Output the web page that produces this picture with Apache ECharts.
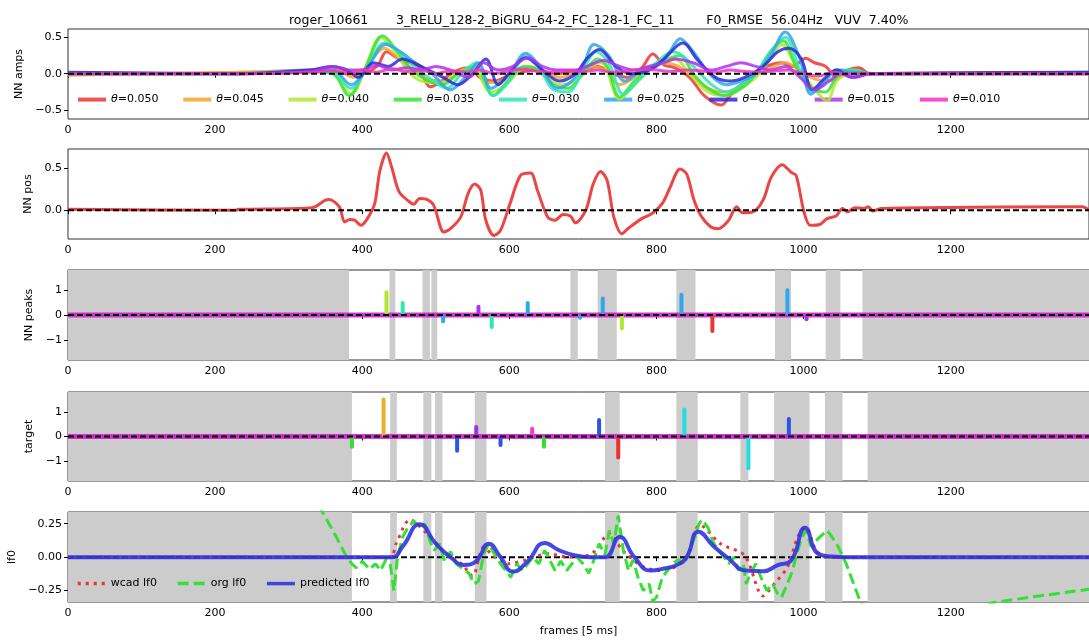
<!DOCTYPE html>
<html><head><meta charset="utf-8">
<script src="https://cdn.jsdelivr.net/npm/echarts@6/dist/echarts.min.js"></script>
<style>html,body{margin:0;padding:0;background:#fff}#c{width:1089px;height:642px}</style>
</head><body><div id="c"></div>
<script>
// ---------------- data ----------------
const TITLE = 'roger_10661       3_RELU_128-2_BiGRU_64-2_FC_128-1_FC_11        F0_RMSE  56.04Hz   VUV  7.40%';
const X_MAX = 1388;
const X_TICKS = [0, 200, 400, 600, 800, 1000, 1200];
const X_LABEL = 'frames [5 ms]';
const PANEL_NAMES = ['NN amps', 'NN pos', 'NN peaks', 'target', 'lf0'];
const THETAS = ['θ=0.050', 'θ=0.045', 'θ=0.040', 'θ=0.035', 'θ=0.030', 'θ=0.025', 'θ=0.020', 'θ=0.015', 'θ=0.010'];

// NN amps per theta: [frame, value]
const AMP_050 = [[0,0.0],[100,0],[230,0.01],[320,0.03],[360,0.05],[395,0.0],[420,0.1],[433,0.3],[450,0.2],[475,0.1],[493,-0.18],[505,-0.12],[520,0.0],[530,0.05],[545,0.08],[560,-0.05],[580,-0.1],[600,-0.02],[620,0.03],[640,0.05],[660,0.0],[680,0.02],[700,0.05],[720,0.1],[740,0.0],[760,-0.05],[780,0.08],[795,0.27],[810,0.12],[825,0.08],[845,-0.05],[865,-0.3],[888,-0.43],[900,-0.3],[915,-0.15],[930,-0.05],[950,0.1],[970,0.15],[985,0.1],[1003,0.21],[1015,0.15],[1030,0.1],[1045,-0.05],[1060,0.05],[1075,0.08],[1090,0.0],[1120,0.0],[1388,0.01]];
const AMP_045 = [[0,-0.02],[100,0],[230,0.02],[320,0.05],[360,0.06],[390,-0.05],[410,0.15],[430,0.35],[450,0.2],[470,0.05],[490,-0.08],[510,-0.1],[530,0.0],[550,0.05],[570,-0.12],[590,-0.1],[610,0.05],[630,0.08],[650,0.0],[670,-0.05],[690,0.02],[710,0.1],[730,0.05],[750,-0.15],[770,-0.05],[790,0.1],[810,0.15],[830,0.1],[850,-0.05],[870,-0.2],[890,-0.25],[910,-0.2],[930,-0.05],[950,0.05],[975,0.15],[995,0.05],[1010,-0.05],[1030,-0.1],[1050,-0.05],[1070,0.05],[1090,0.0],[1388,0.0]];
const AMP_040 = [[0,-0.01],[230,0.0],[330,0.03],[360,0.0],[385,-0.28],[405,0.1],[425,0.5],[445,0.3],[465,0.0],[490,-0.12],[510,-0.12],[530,0.02],[550,0.08],[575,-0.25],[595,-0.15],[615,0.05],[630,0.1],[650,-0.05],[670,-0.15],[690,-0.1],[710,0.1],[725,0.15],[750,-0.35],[770,-0.15],[790,0.05],[810,0.15],[825,0.2],[845,0.0],[870,-0.25],[895,-0.3],[915,-0.2],[935,-0.05],[955,0.2],[970,0.4],[990,0.1],[1010,-0.15],[1032,-0.37],[1045,-0.1],[1065,0.05],[1090,0.0],[1388,0.0]];
const AMP_035 = [[0,0.0],[230,0.0],[330,0.03],[360,0.0],[382,-0.3],[405,0.1],[428,0.52],[448,0.3],[468,0.05],[490,-0.1],[510,-0.15],[530,0.0],[555,0.1],[578,-0.3],[598,-0.1],[620,0.1],[640,0.05],[660,-0.15],[680,-0.2],[700,0.0],[720,0.2],[733,0.1],[750,-0.32],[770,-0.1],[795,0.1],[815,0.2],[832,0.25],[850,0.0],[870,-0.2],[892,-0.3],[915,-0.2],[935,0.0],[955,0.3],[972,0.45],[992,0.05],[1012,-0.2],[1030,-0.25],[1045,-0.05],[1065,0.05],[1090,0.0],[1388,0.0]];
const AMP_030 = [[0,0.0],[230,0.0],[330,0.03],[360,0.02],[384,-0.2],[405,0.05],[430,0.42],[450,0.3],[470,0.1],[490,-0.05],[515,-0.2],[535,0.0],[555,0.15],[578,-0.3],[600,-0.1],[622,0.25],[640,0.1],[660,-0.22],[680,-0.25],[700,0.05],[718,0.3],[735,0.15],[755,-0.28],[775,-0.1],[800,0.15],[822,0.3],[835,0.25],[855,0.05],[875,-0.15],[895,-0.25],[915,-0.15],[935,0.0],[955,0.3],[975,0.5],[995,0.05],[1012,-0.25],[1030,-0.1],[1045,0.05],[1065,0.05],[1090,0.0],[1388,0.01]];
const AMP_025 = [[0,0.01],[230,0.0],[330,0.05],[360,0.05],[385,-0.15],[405,0.05],[432,0.4],[452,0.3],[472,0.15],[495,0.0],[520,-0.22],[540,-0.05],[558,0.15],[575,-0.2],[600,0.0],[622,0.28],[645,0.05],[665,-0.2],[685,-0.1],[700,0.1],[715,0.4],[735,0.25],[757,-0.1],[780,0.05],[800,0.1],[818,0.3],[832,0.48],[850,0.3],[872,0.0],[895,-0.15],[915,-0.1],[935,0.0],[955,0.25],[975,0.57],[995,0.2],[1010,-0.28],[1025,-0.15],[1045,0.05],[1070,0.02],[1100,0.0],[1388,0.02]];
const AMP_020 = [[0,0.02],[230,0.0],[330,0.05],[358,0.1],[380,0.05],[395,-0.05],[415,0.15],[435,0.1],[455,0.2],[470,0.15],[490,0.05],[510,-0.05],[530,-0.15],[550,0.0],[568,0.2],[585,-0.15],[603,0.05],[622,0.22],[645,0.05],[668,-0.1],[690,0.0],[705,0.2],[722,0.33],[745,0.1],[765,0.0],[790,0.05],[810,0.2],[836,0.42],[855,0.2],[880,-0.05],[900,-0.1],[920,-0.05],[945,0.1],[965,0.3],[980,0.35],[997,0.2],[1012,-0.22],[1030,-0.05],[1045,0.05],[1065,-0.05],[1090,0.0],[1388,0.02]];
const AMP_015 = [[0,0.0],[230,0.0],[330,0.03],[360,0.1],[380,0.05],[400,0.05],[420,0.12],[440,0.05],[460,0.08],[480,0.05],[500,0.1],[520,0.05],[545,-0.05],[565,0.15],[585,0.05],[605,0.1],[625,0.22],[645,0.1],[665,0.05],[690,0.05],[710,0.12],[728,0.18],[750,0.1],[770,0.05],[790,0.1],[810,0.15],[825,0.2],[850,0.15],[875,0.05],[895,0.1],[915,0.15],[935,0.1],[955,0.05],[975,0.1],[995,-0.05],[1015,-0.22],[1035,-0.1],[1050,0.0],[1070,-0.05],[1090,0.0],[1388,0.0]];
const AMP_010 = [[0,0.0],[230,0.0],[330,0.02],[360,0.04],[380,0.0],[400,0.05],[420,0.02],[440,0.07],[460,0.03],[480,0.05],[500,0.0],[520,0.04],[540,0.02],[560,0.05],[580,0.0],[600,0.04],[620,0.06],[640,0.03],[660,0.02],[680,0.04],[700,0.03],[720,0.05],[740,0.02],[760,0.04],[780,0.06],[800,0.05],[820,0.03],[840,0.05],[860,0.04],[880,0.02],[900,0.05],[920,0.03],[940,0.02],[960,0.04],[980,0.05],[1000,0.0],[1020,-0.03],[1040,0.02],[1060,0.0],[1388,0.0]];
const AMPS = [AMP_050, AMP_045, AMP_040, AMP_035, AMP_030, AMP_025, AMP_020, AMP_015, AMP_010];

// NN pos: [frame, value]
const POS = [[0,0.01],[228,0.0],[232,0.01],[332,0.03],[350,0.12],[355,0.126],[369,0.04],[376,-0.14],[383,-0.11],[390,-0.12],[398,-0.18],[407,-0.1],[417,0.08],[424,0.47],[433,0.68],[440,0.51],[450,0.22],[464,0.1],[470,0.07],[478,0.14],[487,0.13],[497,0.06],[511,-0.26],[520,-0.22],[534,-0.08],[544,0.2],[553,0.31],[561,0.24],[568,-0.12],[579,-0.3],[588,-0.24],[601,0.08],[615,0.41],[629,0.44],[638,0.24],[652,-0.08],[662,-0.12],[673,-0.05],[683,-0.07],[690,-0.15],[704,0.0],[714,0.31],[724,0.46],[733,0.35],[742,-0.08],[753,-0.28],[761,-0.22],[780,-0.1],[794,-0.04],[808,0.08],[818,0.26],[832,0.49],[841,0.43],[851,0.12],[860,-0.06],[874,-0.2],[884,-0.22],[898,-0.12],[909,0.04],[917,-0.03],[931,-0.02],[945,0.12],[956,0.39],[971,0.54],[983,0.45],[990,0.41],[1000,0.0],[1009,-0.18],[1022,-0.17],[1032,-0.1],[1044,-0.07],[1053,0.02],[1060,-0.02],[1069,0.03],[1082,0.02],[1088,0.04],[1094,-0.01],[1105,0.02],[1379,0.04],[1388,0.0]];

// NN peaks: [frame, value, theta index]
const PEAKS = [[433,0.98,2],[455,0.56,4],[510,-0.33,5],[558,0.41,7],[576,-0.56,4],[625,0.56,5],[696,-0.19,5],[727,0.74,5],[753,-0.61,2],[834,0.89,5],[876,-0.72,0],[978,1.06,5],[1004,-0.25,7]];
// target: [frame, value, class index]
const TARGETS = [[386,-0.5,0],[429,1.58,1],[529,-0.66,2],[555,0.47,3],[588,-0.42,2],[631,0.39,4],[647,-0.5,0],[722,0.75,2],[748,-0.93,5],[838,1.17,6],[925,-1.37,6],[980,0.79,2]];

// gray (unvoiced) spans: [start frame, end frame]
const SPANS_PEAKS = [[0,382],[437,445],[482,492],[494,502],[683,693],[720,746],[827,853],[961,983],[1030,1050],[1080,1388]];
const SPANS_TARGET = [[0,386],[438,447],[483,494],[499,509],[553,569],[730,750],[827,856],[914,925],[960,1008],[1029,1053],[1087,1388]];

// lf0 panel
const LF0_WCAD = [[0,0],[438,0.0],[446,0.1],[465,0.28],[488,0.175],[515,0.02],[535,-0.05],[550,-0.14],[565,0.075],[580,0.0],[598,-0.05],[623,-0.02],[652,0.025],[680,0.0],[712,0.025],[736,0.175],[754,0.05],[783,-0.075],[811,-0.1],[841,0.0],[859,0.24],[887,0.1],[920,0.01],[945,-0.29],[960,-0.2],[978,-0.075],[992,0.15],[1002,0.225],[1017,0.05],[1030,0.0],[1388,0]];
const LF0_ORG = [[320,0.6],[346,0.335],[360,0.2],[379,0.0],[386,-0.05],[392,-0.08],[400,-0.03],[410,-0.09],[418,-0.05],[425,-0.1],[432,-0.02],[438,-0.05],[443,-0.25],[448,0.0],[455,0.15],[462,0.22],[470,0.27],[478,0.22],[485,0.25],[492,0.12],[498,0.05],[505,0.1],[512,-0.03],[520,0.04],[528,-0.05],[535,-0.08],[545,-0.12],[552,-0.2],[558,-0.18],[565,0.02],[572,0.1],[580,0.02],[588,-0.05],[595,-0.1],[602,-0.15],[610,-0.05],[618,-0.1],[625,-0.05],[632,0.0],[640,-0.05],[648,0.05],[655,-0.02],[662,-0.1],[670,-0.03],[678,-0.1],[685,-0.05],[692,0.0],[700,-0.05],[708,-0.12],[715,-0.02],[722,0.1],[730,0.02],[736,0.2],[742,0.1],[748,0.31],[755,0.05],[762,-0.1],[768,-0.02],[775,-0.15],[782,-0.25],[790,-0.2],[795,-0.33],[800,-0.3],[808,-0.15],[815,-0.1],[822,-0.05],[830,-0.02],[838,-0.05],[845,0.05],[852,0.15],[858,0.25],[862,0.28],[870,0.22],[878,0.1],[885,0.05],[892,0.0],[898,-0.05],[905,0.0],[912,-0.1],[918,-0.05],[922,-0.2],[928,-0.12],[935,-0.05],[942,-0.15],[950,-0.25],[958,-0.2],[965,-0.28],[970,-0.3],[978,-0.2],[985,-0.1],[992,0.05],[998,0.15],[1003,0.2],[1010,0.08],[1020,0.14],[1032,0.2],[1045,0.1],[1058,-0.05],[1068,-0.2],[1077,-0.33],[1090,-0.45],[1150,-0.6],[1200,-0.5],[1257,-0.34],[1320,-0.29],[1388,-0.24]];
const LF0_PRED = [[0,0],[440,0.0],[455,0.08],[478,0.245],[500,0.1],[520,0.0],[538,-0.058],[555,-0.03],[572,0.1],[588,0.0],[605,-0.108],[625,-0.03],[648,0.105],[668,0.05],[690,0.012],[710,0.0],[730,0.0],[750,0.15],[770,0.0],[792,-0.1],[810,-0.085],[827,-0.06],[841,0.0],[857,0.19],[878,0.08],[898,-0.01],[921,-0.1],[945,-0.105],[965,-0.06],[983,-0.025],[1002,0.22],[1020,0.025],[1039,0.005],[1060,0],[1388,0]];
const LF0_NAMES = ['wcad lf0', 'org lf0', 'predicted lf0'];

// y ranges and ticks
const Y_RANGES = [[-0.62, 0.612], [-0.342, 0.726], [-1.79, 1.79], [-1.8, 1.8], [-0.335, 0.337]];
const Y_TICKS = [[-0.5, 0, 0.5], [0, 0.5], [-1, 0, 1], [-1, 0, 1], [-0.25, 0, 0.25]];
const Y_DEC = [1, 1, 0, 0, 2];

// ---------------- styles ----------------
const FONT = 'DejaVu Sans';
const THETA_COLORS = ['#ec3434', '#f0a52e', '#b3e630', '#37e337', '#30e8b0', '#30a6ec', '#2a2ad8', '#aa33ee', '#ee33c4'];
const TARGET_COLORS = ['#33dd33', '#e8b030', '#2a55e6', '#a030e0', '#f03cc8', '#e83030', '#22dede'];
const GRIDS = [
  {left: 68, right: 0, top: 29, height: 90},
  {left: 68, right: 0, top: 149, height: 90},
  {left: 68, right: 0, top: 270, height: 90},
  {left: 68, right: 0, top: 392, height: 89},
  {left: 68, right: 0, top: 512, height: 90}
];
const NAME_GAPS = [40, 31, 31, 30, 47];

function fmtY(d) {
  return v => (v < 0 ? '\u2212' : '') + Math.abs(v).toFixed(d);
}

const xAxes = GRIDS.map((g, i) => ({
  type: 'value', gridIndex: i, min: 0, max: X_MAX,
  name: i === 4 ? X_LABEL : '', nameLocation: 'middle', nameGap: 24,
  nameTextStyle: {fontFamily: FONT, fontSize: 11, color: '#000'},
  axisLine: {show: false},
  axisTick: {show: true, length: 4, lineStyle: {color: '#000'}, customValues: X_TICKS},
  axisLabel: {fontFamily: FONT, fontSize: 11, color: '#000', margin: 6, customValues: X_TICKS, formatter: v => String(v)},
  splitLine: {show: false}
}));
const yAxes = GRIDS.map((g, i) => ({
  type: 'value', gridIndex: i, min: Y_RANGES[i][0], max: Y_RANGES[i][1],
  name: PANEL_NAMES[i], nameLocation: 'middle', nameGap: NAME_GAPS[i],
  nameTextStyle: {fontFamily: FONT, fontSize: 11, color: '#000'},
  axisLine: {show: false},
  axisTick: {show: true, length: 4, lineStyle: {color: '#000'}, customValues: Y_TICKS[i]},
  axisLabel: {fontFamily: FONT, fontSize: 11, color: '#000', margin: 6, customValues: Y_TICKS[i], formatter: fmtY(Y_DEC[i])},
  splitLine: {show: false}
}));

const series = [];
function zeroLine(i, z) {
  return {type: 'line', xAxisIndex: i, yAxisIndex: i, data: [[0, 0], [X_MAX, 0]], symbol: 'none', silent: true, z: z,
    lineStyle: {color: '#000', width: 2, type: [6, 3]}};
}
function grayRects(i, spans) {
  return {type: 'custom', xAxisIndex: i, yAxisIndex: i, data: spans, silent: true, z: 1, clip: true,
    renderItem: (params, api) => {
      const cs = params.coordSys;
      const a = api.coord([api.value(0), 0])[0];
      const b = api.coord([api.value(1), 0])[0];
      return {type: 'rect', shape: {x: a, y: cs.y, width: b - a, height: cs.height}, style: {fill: '#cccccc'}};
    }};
}
// panel 1
AMPS.forEach((d, k) => {
  series.push({type: 'line', name: THETAS[k], xAxisIndex: 0, yAxisIndex: 0, data: d, symbol: 'none', showSymbol: false, smooth: 0.35, z: 3 + k,
    lineStyle: {color: THETA_COLORS[k], width: 3, opacity: 0.85}, itemStyle: {color: THETA_COLORS[k]}});
});
series.push(zeroLine(0, 20));
// panel 2
series.push({type: 'line', xAxisIndex: 1, yAxisIndex: 1, data: POS, symbol: 'none', smooth: 0.3, z: 3,
  lineStyle: {color: '#e83232', width: 3, opacity: 0.9}});
series.push(zeroLine(1, 20));
// panel 3
series.push(grayRects(2, SPANS_PEAKS));
series.push({type: 'line', xAxisIndex: 2, yAxisIndex: 2, data: [[0, 0], [X_MAX, 0]], symbol: 'none', z: 3,
  lineStyle: {color: '#cc22cc', width: 5, opacity: 0.9}});
series.push({type: 'bar', xAxisIndex: 2, yAxisIndex: 2, data: PEAKS, barWidth: 4, z: 4,
  itemStyle: {color: p => THETA_COLORS[p.value[2]], borderRadius: 2}});
series.push(zeroLine(2, 20));
// panel 4
series.push(grayRects(3, SPANS_TARGET));
series.push({type: 'line', xAxisIndex: 3, yAxisIndex: 3, data: [[0, 0], [X_MAX, 0]], symbol: 'none', z: 3,
  lineStyle: {color: '#cc22cc', width: 5, opacity: 0.9}});
series.push({type: 'bar', xAxisIndex: 3, yAxisIndex: 3, data: TARGETS, barWidth: 4, z: 4,
  itemStyle: {color: p => TARGET_COLORS[p.value[2]], borderRadius: 2}});
series.push(zeroLine(3, 20));
// panel 5
series.push(grayRects(4, SPANS_TARGET));
series.push(zeroLine(4, 3));
series.push({type: 'line', name: LF0_NAMES[0], xAxisIndex: 4, yAxisIndex: 4, data: LF0_WCAD, symbol: 'none', showSymbol: false, smooth: 0.3, z: 4,
  lineStyle: {color: '#ee3333', width: 3, type: [3, 5], cap: 'butt'}, itemStyle: {color: '#ee3333'}});
series.push({type: 'line', name: LF0_NAMES[1], xAxisIndex: 4, yAxisIndex: 4, data: LF0_ORG, symbol: 'none', showSymbol: false, z: 5,
  lineStyle: {color: '#33e033', width: 3, type: [11, 5]}, itemStyle: {color: '#33e033'}});
series.push({type: 'line', name: LF0_NAMES[2], xAxisIndex: 4, yAxisIndex: 4, data: LF0_PRED, symbol: 'none', showSymbol: false, smooth: 0.5, z: 6,
  lineStyle: {color: '#3333e0', width: 4, opacity: 0.9}, itemStyle: {color: '#3333e0'}});

const chart = echarts.init(document.getElementById('c'), null, {renderer: 'canvas'});
chart.setOption({
  animation: false,
  backgroundColor: '#fff',
  title: {text: TITLE, left: 284, top: 9, textStyle: {fontFamily: FONT, fontSize: 12.5, fontWeight: 'normal', color: '#000'}},
  grid: GRIDS.map(g => Object.assign({show: true, borderColor: '#333', borderWidth: 1, backgroundColor: 'transparent', containLabel: false, outerBoundsMode: 'none'}, g)),
  xAxis: xAxes,
  yAxis: yAxes,
  legend: [
    {data: THETAS, left: 76, top: 94, itemWidth: 28, itemHeight: 14, itemGap: 22.8, padding: 0,
      itemStyle: {opacity: 0, borderWidth: 0}, lineStyle: {width: 4},
      formatter: n => '{i|θ}' + n.slice(1),
      textStyle: {fontFamily: FONT, fontSize: 11, color: '#000', rich: {i: {fontStyle: 'italic', fontFamily: FONT, fontSize: 11}}}},
    {data: LF0_NAMES, left: 76, top: 578, itemWidth: 28, itemHeight: 14, itemGap: 19, padding: 0,
      itemStyle: {opacity: 0, borderWidth: 0}, lineStyle: {width: 3.5},
      textStyle: {fontFamily: FONT, fontSize: 11, color: '#000'}}
  ],
  series: series
});
</script>
</body></html>
